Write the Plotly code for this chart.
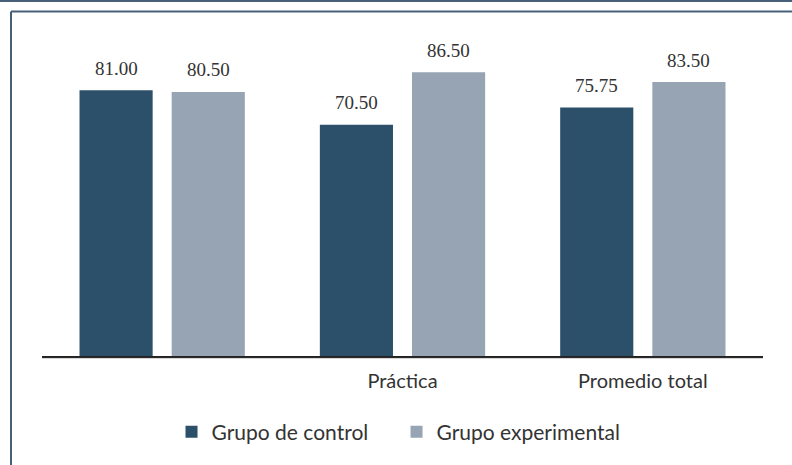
import plotly.graph_objects as go

categories = [" ", "Práctica", "Promedio total"]
control = [81.00, 70.50, 75.75]
experimental = [80.50, 86.50, 83.50]
series_names = ["Grupo de control", "Grupo experimental"]
colors = ["#2c4f6a", "#97a4b3"]

SANS = "Lato"
SERIF = "Liberation Serif"
TXT = "#333333"

fig = go.Figure()
for name, vals, col in zip(series_names, [control, experimental], colors):
    fig.add_trace(go.Bar(
        x=categories, y=vals, name=name, marker=dict(color=col, line=dict(width=0)),
    ))

offsets = [-46, 46]
for vals, dx in zip([control, experimental], offsets):
    for c, v in zip(categories, vals):
        fig.add_annotation(x=c, y=v, text=f"{v:.2f}", showarrow=False, xshift=dx,
                           yshift=22, yanchor="middle",
                           font=dict(family=SERIF, size=19, color=TXT))

fig.update_layout(
    width=792, height=465,
    margin=dict(l=42, r=29, t=28, b=109),
    paper_bgcolor="white", plot_bgcolor="white",
    barmode="group", bargap=0.233, bargroupgap=0.2065,
    font=dict(family=SANS, size=20, color=TXT),
    showlegend=True,
    legend=dict(orientation="h", x=0.4917, xanchor="center", y=-0.232, yanchor="middle",
                font=dict(family=SANS, size=21, color=TXT), itemwidth=30,
                entrywidth=180, entrywidthmode="pixels", traceorder="normal"),
    xaxis=dict(showline=True, linecolor="#222222", linewidth=2, ticks="", showgrid=False,
               tickfont=dict(family=SANS, size=20, color=TXT), ticklabelstandoff=6),
    yaxis=dict(range=[0, 100], visible=False, showgrid=False),
    shapes=[
        dict(type="line", xref="paper", yref="paper", x0=-0.06, x1=1.045, y0=1.0823, y1=1.0823,
             line=dict(color="#46607a", width=2)),
        dict(type="line", xref="paper", yref="paper", x0=-0.043, x1=1.045, y0=1.0503, y1=1.0503,
             line=dict(color="#46607a", width=2)),
        dict(type="line", xref="paper", yref="paper", x0=-0.043, x1=-0.043, y0=1.0503, y1=-0.34,
             line=dict(color="#46607a", width=2)),
        dict(type="line", xref="paper", yref="paper", x0=0, x1=1, y0=-0.0075, y1=-0.0075,
             line=dict(color="#d6d6d6", width=1)),
    ],
)

fig.write_html("out.html", config={"displayModeBar": False},
               post_script="document.body.style.margin='0';document.body.style.overflow='hidden';")
